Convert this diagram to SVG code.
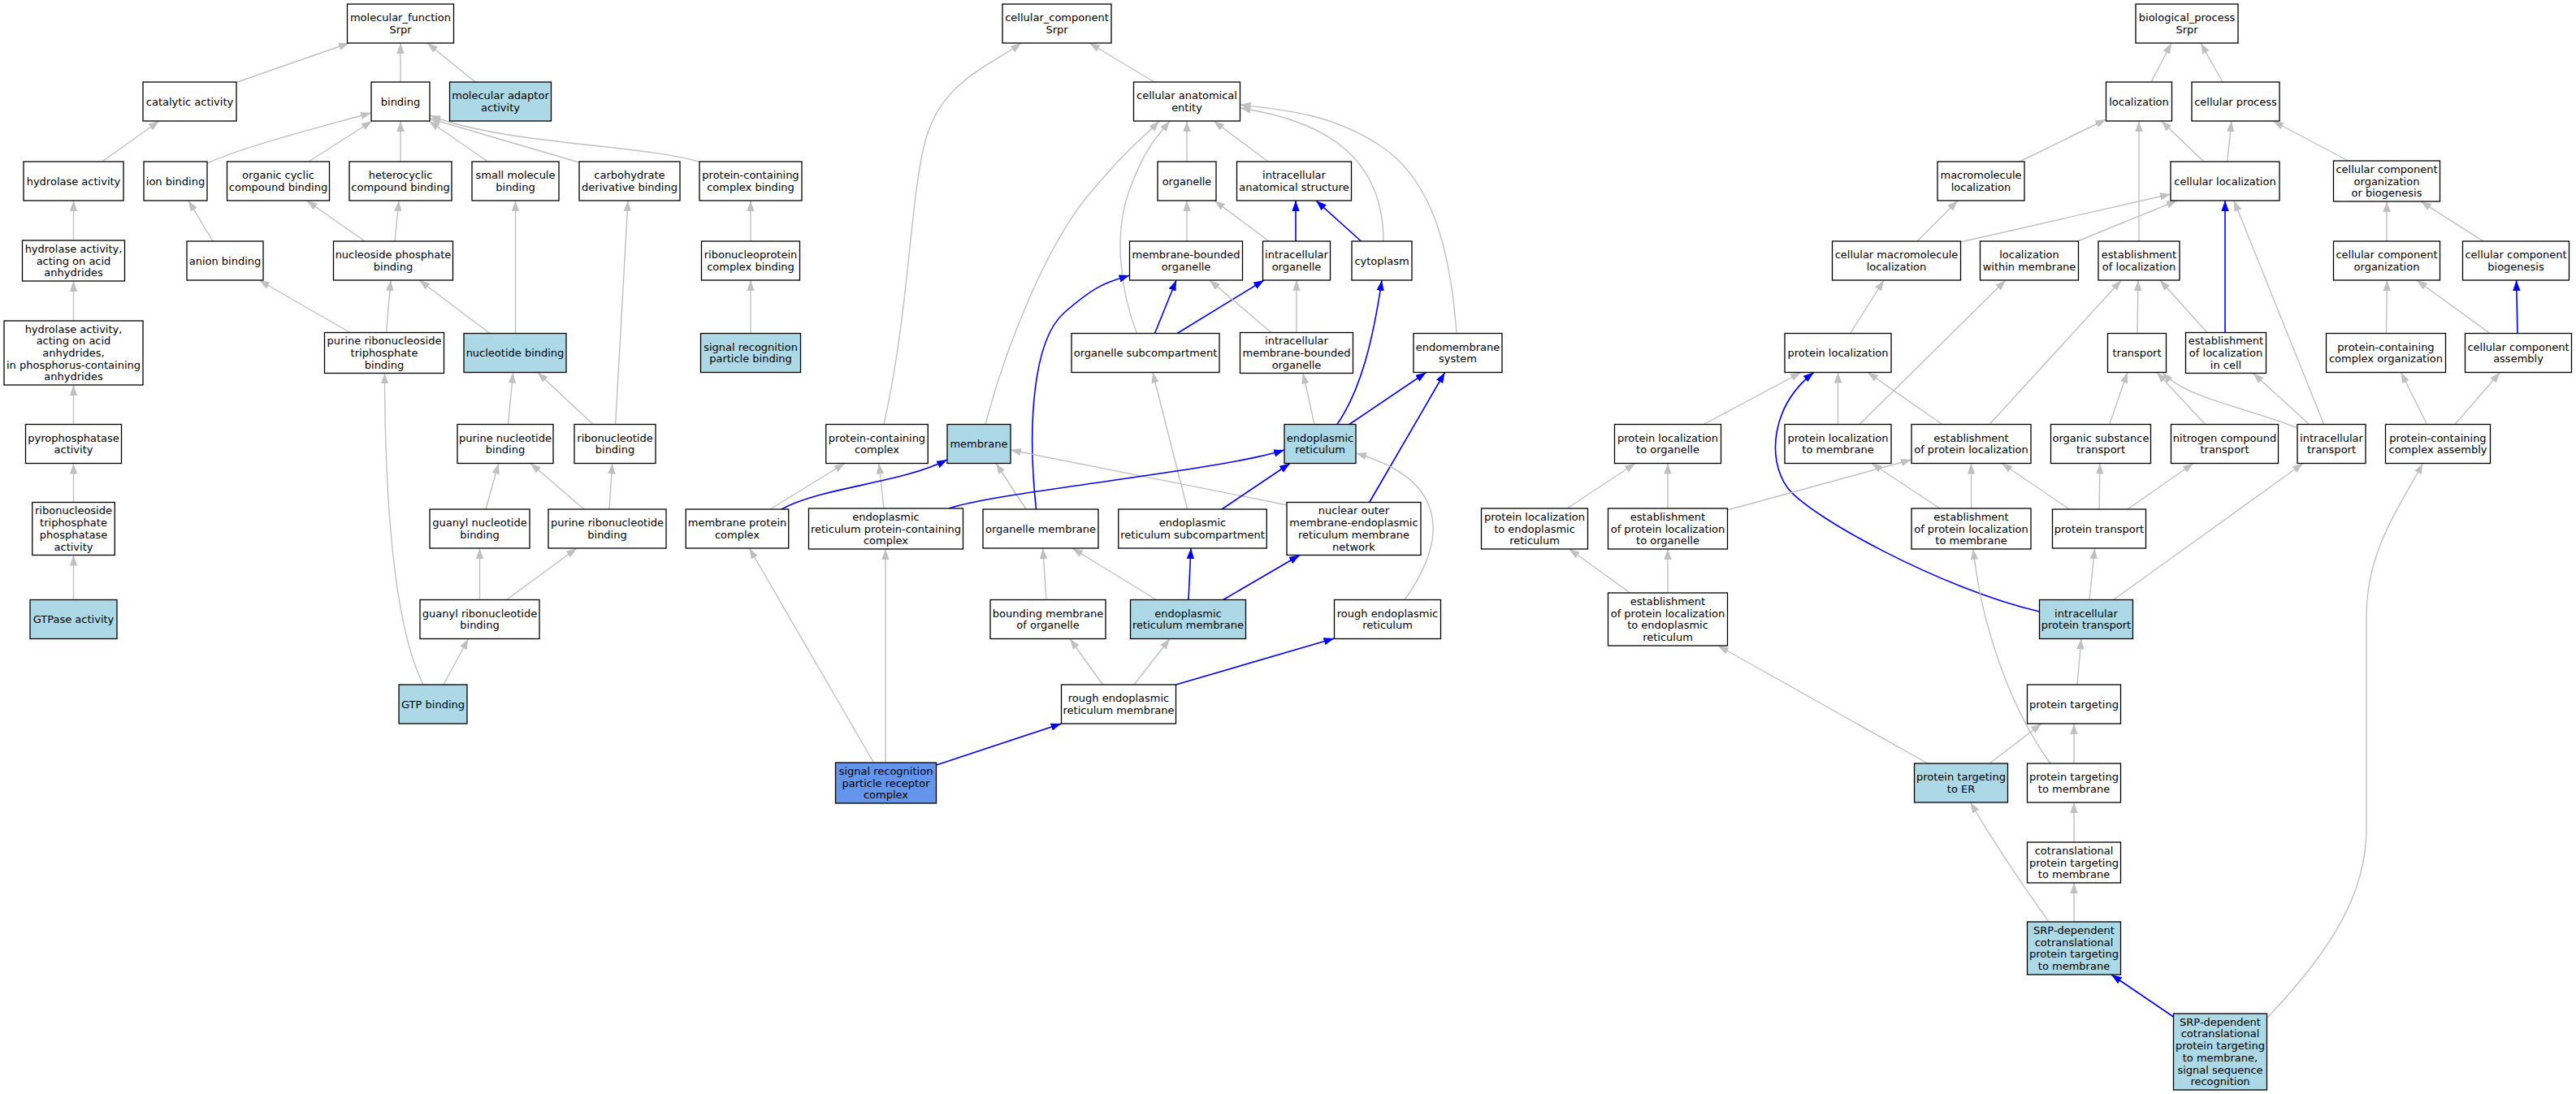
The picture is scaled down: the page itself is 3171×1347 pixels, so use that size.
<svg xmlns="http://www.w3.org/2000/svg" width="3171" height="1347" viewBox="0 0 3171 1347">
<style>
.n rect{fill:#fff;stroke:#000;stroke-width:1.3}
.n.lb rect{fill:#add8e6}
.n.cb rect{fill:#6495ed}
.n text{font-family:"DejaVu Sans","Liberation Sans",sans-serif;font-size:13px;text-anchor:middle;fill:#000}
.g{stroke:#c0c0c0;stroke-width:1.4;fill:none;marker-end:url(#ag)}
.b{stroke:#0000ff;stroke-width:1.6;fill:none;marker-end:url(#ab)}
</style>
<defs>
<marker id="ag" markerUnits="userSpaceOnUse" markerWidth="13" markerHeight="10" refX="13" refY="5" orient="auto"><path d="M0,0.3 L13,5 L0,9.7 z" fill="#c0c0c0"/></marker>
<marker id="ab" markerUnits="userSpaceOnUse" markerWidth="13" markerHeight="10" refX="13" refY="5" orient="auto"><path d="M0,0.3 L13,5 L0,9.7 z" fill="#0000ff"/></marker>
</defs>
<rect width="3171" height="1347" fill="#fff"/>
<g id="connectors">
<path class="g" d="M292,101 L430,53"/>
<path class="g" d="M493,101 L493,53"/>
<path class="g" d="M585,101 L526,53"/>
<path class="g" d="M125.5,199 L196,149"/>
<path class="g" d="M255,201 C300,180 400,155 457,139"/>
<path class="g" d="M380,199 L458,149"/>
<path class="g" d="M493,199 L493,149"/>
<path class="g" d="M600.5,199 L528,149"/>
<path class="g" d="M713,200 L529,146"/>
<path class="g" d="M860,199 C790,178 620,178 529,142"/>
<path class="g" d="M90.5,296 L90.5,247"/>
<path class="g" d="M262,297 L232,247"/>
<path class="g" d="M449,297 L377.6,247"/>
<path class="g" d="M486,297 L491,247"/>
<path class="g" d="M90.5,395 L90.5,346"/>
<path class="g" d="M431,409.5 L319,345"/>
<path class="g" d="M475.5,409.5 L481,345"/>
<path class="g" d="M603,410.5 L516,345"/>
<path class="g" d="M634.5,410.5 L634.5,247"/>
<path class="g" d="M757.6,522.5 L773,247"/>
<path class="g" d="M924,297 L924,247"/>
<path class="g" d="M924,410.5 L924,345"/>
<path class="g" d="M90.5,522.5 L90.5,474"/>
<path class="g" d="M90.5,618.5 L90.5,570.5"/>
<path class="g" d="M90.5,738.5 L90.5,683.5"/>
<path class="g" d="M625.5,522.5 L631.6,458.5"/>
<path class="g" d="M730,522.5 L661.7,458.5"/>
<path class="g" d="M598,627 L613.8,570.5"/>
<path class="g" d="M719,627 L653,570.5"/>
<path class="g" d="M750,627 L753.6,570.5"/>
<path class="g" d="M590.5,738.5 L590.5,675"/>
<path class="g" d="M623.5,738.5 L710,675"/>
<path class="g" d="M546,843 L576.5,786.5"/>
<path class="g" d="M521,843 C490,780 474,650 473.5,459.5"/>
<path class="g" d="M1421,101 L1341,53"/>
<path class="g" d="M1088,522.5 C1120,380 1120,240 1140,170 S1220,80 1257,53"/>
<path class="g" d="M1461,199 L1461,149"/>
<path class="g" d="M1561,199 L1494,149"/>
<path class="g" d="M1213,522.5 C1240,420 1290,300 1340,240 S1405,172 1427,149"/>
<path class="g" d="M1399.5,410.5 C1380,360 1370,290 1390,235 S1425,168 1440,149"/>
<path class="g" d="M1703,297 C1703,200 1640,150 1526.5,133"/>
<path class="g" d="M1793,410.5 C1785,300 1760,220 1700,180 S1580,135 1526.5,129"/>
<path class="g" d="M1562,297 L1495,247"/>
<path class="b" d="M1595,297 L1595,247"/>
<path class="b" d="M1675.5,297 L1620,247"/>
<path class="g" d="M1461,297 L1461,247"/>
<path class="b" d="M1421.5,410.5 L1448,345"/>
<path class="b" d="M1449,410.5 L1556,345"/>
<path class="g" d="M1565,409.5 L1489,345"/>
<path class="g" d="M1596,409.5 L1596,345"/>
<path class="b" d="M1275.5,627 C1265,530 1270,420 1310,385 S1362,348 1390.5,339"/>
<path class="g" d="M1263,627 L1226,570.5"/>
<path class="b" d="M1661,522.5 L1755.6,458.5"/>
<path class="g" d="M1618,522.5 L1604,459.5"/>
<path class="b" d="M1646,522.5 C1675,480 1690,420 1701,345"/>
<path class="b" d="M1685.7,618.5 L1778.6,458.5"/>
<path class="g" d="M1584,621.7 L1244,554"/>
<path class="g" d="M1461.7,627 L1418.9,458.5"/>
<path class="b" d="M1504,627 L1588,570.5"/>
<path class="b" d="M1168,626 C1230,605 1500,580 1581,554"/>
<path class="g" d="M1088,626 L1082,570.5"/>
<path class="g" d="M948,627 L1040,570.5"/>
<path class="b" d="M962,627 C1010,600 1110,595 1166,566"/>
<path class="g" d="M1288,738.5 L1283.7,675"/>
<path class="g" d="M1423.5,738.5 L1320,675"/>
<path class="b" d="M1463,738.5 L1466,675"/>
<path class="b" d="M1505.6,738.5 L1600,683.5"/>
<path class="g" d="M1729,738.5 C1785,660 1780,590 1669,558"/>
<path class="g" d="M1357.6,843 L1317,786.5"/>
<path class="g" d="M1396,843 L1440,786.5"/>
<path class="b" d="M1447.5,843 L1642.5,786"/>
<path class="b" d="M1152.5,942 L1306.5,891"/>
<path class="g" d="M1075.5,939 L922.4,675"/>
<path class="g" d="M1090,939 L1090,676"/>
<path class="g" d="M2648,101 L2673,53"/>
<path class="g" d="M2736,101 L2709,53"/>
<path class="g" d="M2486,199 L2592.5,147"/>
<path class="g" d="M2712.7,199 L2660.6,149"/>
<path class="g" d="M2741.7,199 L2747,149"/>
<path class="g" d="M2890.6,198 L2798,149"/>
<path class="g" d="M2633,297 L2633,149"/>
<path class="g" d="M2360,297 L2410,247"/>
<path class="g" d="M2413.5,298 L2672,239"/>
<path class="g" d="M2557.3,297 L2680,247"/>
<path class="b" d="M2739,409.5 L2739,247"/>
<path class="g" d="M2860.7,522.5 L2750,247"/>
<path class="g" d="M2938,297 L2938,248"/>
<path class="g" d="M3057,297 L2980,248"/>
<path class="g" d="M2631,410.5 L2632,345"/>
<path class="g" d="M2717,409.5 L2659,345"/>
<path class="g" d="M2449,522.5 L2611.4,345"/>
<path class="g" d="M2277.6,410.5 L2319,345"/>
<path class="g" d="M2289,522.5 L2469,345"/>
<path class="g" d="M2937.4,410.5 L2938.4,345"/>
<path class="g" d="M3065,410.5 L2975,345"/>
<path class="b" d="M3099,410.5 L3097.6,345"/>
<path class="g" d="M2596.7,522.5 L2618.8,458.5"/>
<path class="g" d="M2714.6,522.5 L2655,458.5"/>
<path class="g" d="M2828,527 C2760,500 2690,490 2662,458.5"/>
<path class="g" d="M2842.5,522.5 L2773.6,459.5"/>
<path class="g" d="M2987.5,522.5 L2955.6,458.5"/>
<path class="g" d="M3022,522.5 L3077.5,458.5"/>
<path class="g" d="M2097.4,522.5 L2217,458.5"/>
<path class="b" d="M2510.5,753 C2390,725 2225,635 2200,600 C2175,565 2180,500 2232.7,458.5"/>
<path class="g" d="M2262.5,522.5 L2262.5,458.5"/>
<path class="g" d="M2390.8,522.5 L2299,458.5"/>
<path class="g" d="M2426.5,626 L2426.5,570.5"/>
<path class="g" d="M2547.5,627 L2464,570.5"/>
<path class="g" d="M2584,627 L2585,570.5"/>
<path class="g" d="M2618.8,627 L2700,570.5"/>
<path class="g" d="M2126.5,628 L2353,566"/>
<path class="g" d="M2053,626 L2053,570.5"/>
<path class="g" d="M2388,626 L2304,570.5"/>
<path class="g" d="M1929,626 L2013,570.5"/>
<path class="g" d="M2006.6,730 L1931.6,676"/>
<path class="g" d="M2053,730 L2053,676"/>
<path class="g" d="M2373,940 L2115,795"/>
<path class="g" d="M2572,738.5 L2578.5,675"/>
<path class="g" d="M2601.6,738.5 L2835,570.5"/>
<path class="g" d="M2557,843 L2562,786.5"/>
<path class="g" d="M2449,940 L2513,891"/>
<path class="g" d="M2553,940 L2553,891"/>
<path class="g" d="M2524,940 C2480,880 2440,780 2429,676"/>
<path class="g" d="M2553,1037 L2553,988"/>
<path class="g" d="M2553,1135 L2553,1087"/>
<path class="g" d="M2522,1135 C2490,1090 2450,1030 2425.6,988"/>
<path class="b" d="M2675.5,1252 L2599,1200"/>
<path class="g" d="M2791,1253 C2870,1170 2913,1100 2913,1020 L2913,760 C2913,680 2950,630 2982.6,570.5"/>
</g>
<g id="N1" class="n"><rect x="427.5" y="5" width="131" height="48"/><text x="493" y="26.15">molecular_function<tspan x="493" dy="14.7">Srpr</tspan></text></g>
<g id="N2" class="n"><rect x="176" y="101" width="115" height="48"/><text x="233.5" y="129.5">catalytic activity</text></g>
<g id="N3" class="n"><rect x="457" y="101" width="72" height="48"/><text x="493" y="129.5">binding</text></g>
<g id="N4" class="n lb"><rect x="553.5" y="101" width="125" height="48"/><text x="616" y="122.15">molecular adaptor<tspan x="616" dy="14.7">activity</tspan></text></g>
<g id="N5" class="n"><rect x="29" y="199" width="123" height="48"/><text x="90.5" y="227.5">hydrolase activity</text></g>
<g id="N6" class="n"><rect x="177" y="199" width="78" height="48"/><text x="216" y="227.5">ion binding</text></g>
<g id="N7" class="n"><rect x="279.5" y="199" width="126" height="48"/><text x="342.5" y="220.15">organic cyclic<tspan x="342.5" dy="14.7">compound binding</tspan></text></g>
<g id="N8" class="n"><rect x="430" y="199" width="126" height="48"/><text x="493" y="220.15">heterocyclic<tspan x="493" dy="14.7">compound binding</tspan></text></g>
<g id="N9" class="n"><rect x="581" y="199" width="107" height="48"/><text x="634.5" y="220.15">small molecule<tspan x="634.5" dy="14.7">binding</tspan></text></g>
<g id="N10" class="n"><rect x="713" y="199" width="124" height="48"/><text x="775" y="220.15">carbohydrate<tspan x="775" dy="14.7">derivative binding</tspan></text></g>
<g id="N11" class="n"><rect x="861" y="199" width="126" height="48"/><text x="924" y="220.15">protein-containing<tspan x="924" dy="14.7">complex binding</tspan></text></g>
<g id="N12" class="n"><rect x="27.5" y="296" width="126" height="50"/><text x="90.5" y="310.8">hydrolase activity,<tspan x="90.5" dy="14.7">acting on acid</tspan><tspan x="90.5" dy="14.7">anhydrides</tspan></text></g>
<g id="N13" class="n"><rect x="230" y="297" width="94" height="48"/><text x="277" y="325.5">anion binding</text></g>
<g id="N14" class="n"><rect x="410.5" y="297" width="147" height="48"/><text x="484" y="318.15">nucleoside phosphate<tspan x="484" dy="14.7">binding</tspan></text></g>
<g id="N15" class="n"><rect x="863.5" y="297" width="121" height="48"/><text x="924" y="318.15">ribonucleoprotein<tspan x="924" dy="14.7">complex binding</tspan></text></g>
<g id="N16" class="n"><rect x="5" y="395" width="171" height="79"/><text x="90.5" y="409.6">hydrolase activity,<tspan x="90.5" dy="14.7">acting on acid</tspan><tspan x="90.5" dy="14.7">anhydrides,</tspan><tspan x="90.5" dy="14.7">in phosphorus-containing</tspan><tspan x="90.5" dy="14.7">anhydrides</tspan></text></g>
<g id="N17" class="n"><rect x="399.5" y="409.5" width="147" height="50"/><text x="473" y="424.3">purine ribonucleoside<tspan x="473" dy="14.7">triphosphate</tspan><tspan x="473" dy="14.7">binding</tspan></text></g>
<g id="N18" class="n lb"><rect x="571" y="410.5" width="126" height="48"/><text x="634" y="439">nucleotide binding</text></g>
<g id="N19" class="n lb"><rect x="862.5" y="410.5" width="123" height="48"/><text x="924" y="431.65">signal recognition<tspan x="924" dy="14.7">particle binding</tspan></text></g>
<g id="N20" class="n"><rect x="31.5" y="522.5" width="118" height="48"/><text x="90.5" y="543.65">pyrophosphatase<tspan x="90.5" dy="14.7">activity</tspan></text></g>
<g id="N21" class="n"><rect x="563" y="522.5" width="118" height="48"/><text x="622" y="543.65">purine nucleotide<tspan x="622" dy="14.7">binding</tspan></text></g>
<g id="N22" class="n"><rect x="707" y="522.5" width="100" height="48"/><text x="757" y="543.65">ribonucleotide<tspan x="757" dy="14.7">binding</tspan></text></g>
<g id="N23" class="n"><rect x="39.75" y="618.5" width="101.5" height="65"/><text x="90.5" y="633.45">ribonucleoside<tspan x="90.5" dy="14.7">triphosphate</tspan><tspan x="90.5" dy="14.7">phosphatase</tspan><tspan x="90.5" dy="14.7">activity</tspan></text></g>
<g id="N24" class="n"><rect x="529" y="627" width="123" height="48"/><text x="590.5" y="648.15">guanyl nucleotide<tspan x="590.5" dy="14.7">binding</tspan></text></g>
<g id="N25" class="n"><rect x="675" y="627" width="145" height="48"/><text x="747.5" y="648.15">purine ribonucleotide<tspan x="747.5" dy="14.7">binding</tspan></text></g>
<g id="N26" class="n lb"><rect x="37" y="738.5" width="107" height="48"/><text x="90.5" y="767">GTPase activity</text></g>
<g id="N27" class="n"><rect x="517" y="738.5" width="147" height="48"/><text x="590.5" y="759.65">guanyl ribonucleotide<tspan x="590.5" dy="14.7">binding</tspan></text></g>
<g id="N28" class="n lb"><rect x="491" y="843" width="84" height="48"/><text x="533" y="871.5">GTP binding</text></g>
<g id="C1" class="n"><rect x="1234" y="5" width="134" height="48"/><text x="1301" y="26.15">cellular_component<tspan x="1301" dy="14.7">Srpr</tspan></text></g>
<g id="C2" class="n"><rect x="1395.5" y="101" width="131" height="48"/><text x="1461" y="122.15">cellular anatomical<tspan x="1461" dy="14.7">entity</tspan></text></g>
<g id="C3" class="n"><rect x="1425" y="199" width="72" height="48"/><text x="1461" y="227.5">organelle</text></g>
<g id="C4" class="n"><rect x="1522.5" y="199" width="141" height="48"/><text x="1593" y="220.15">intracellular<tspan x="1593" dy="14.7">anatomical structure</tspan></text></g>
<g id="C5" class="n"><rect x="1390.5" y="297" width="139" height="48"/><text x="1460" y="318.15">membrane-bounded<tspan x="1460" dy="14.7">organelle</tspan></text></g>
<g id="C6" class="n"><rect x="1554.5" y="297" width="83" height="48"/><text x="1596" y="318.15">intracellular<tspan x="1596" dy="14.7">organelle</tspan></text></g>
<g id="C7" class="n"><rect x="1664" y="297" width="74" height="48"/><text x="1701" y="325.5">cytoplasm</text></g>
<g id="C8" class="n"><rect x="1319" y="410.5" width="182" height="48"/><text x="1410" y="439">organelle subcompartment</text></g>
<g id="C9" class="n"><rect x="1526.5" y="409.5" width="139" height="50"/><text x="1596" y="424.3">intracellular<tspan x="1596" dy="14.7">membrane-bounded</tspan><tspan x="1596" dy="14.7">organelle</tspan></text></g>
<g id="C10" class="n"><rect x="1740" y="410.5" width="109" height="48"/><text x="1794.5" y="431.65">endomembrane<tspan x="1794.5" dy="14.7">system</tspan></text></g>
<g id="C11" class="n"><rect x="1016.75" y="522.5" width="125.5" height="48"/><text x="1079.5" y="543.65">protein-containing<tspan x="1079.5" dy="14.7">complex</tspan></text></g>
<g id="C12" class="n lb"><rect x="1166" y="522.5" width="78" height="48"/><text x="1205" y="551">membrane</text></g>
<g id="C13" class="n lb"><rect x="1581" y="522.5" width="88" height="48"/><text x="1625" y="543.65">endoplasmic<tspan x="1625" dy="14.7">reticulum</tspan></text></g>
<g id="C14" class="n"><rect x="844.25" y="627" width="126.5" height="48"/><text x="907.5" y="648.15">membrane protein<tspan x="907.5" dy="14.7">complex</tspan></text></g>
<g id="C15" class="n"><rect x="995.5" y="626" width="190" height="50"/><text x="1090.5" y="640.8">endoplasmic<tspan x="1090.5" dy="14.7">reticulum protein-containing</tspan><tspan x="1090.5" dy="14.7">complex</tspan></text></g>
<g id="C16" class="n"><rect x="1210" y="627" width="142" height="48"/><text x="1281" y="655.5">organelle membrane</text></g>
<g id="C17" class="n"><rect x="1376.75" y="627" width="182.5" height="48"/><text x="1468" y="648.15">endoplasmic<tspan x="1468" dy="14.7">reticulum subcompartment</tspan></text></g>
<g id="C18" class="n"><rect x="1584" y="618.5" width="165" height="65"/><text x="1666.5" y="633.45">nuclear outer<tspan x="1666.5" dy="14.7">membrane-endoplasmic</tspan><tspan x="1666.5" dy="14.7">reticulum membrane</tspan><tspan x="1666.5" dy="14.7">network</tspan></text></g>
<g id="C19" class="n"><rect x="1219" y="738.5" width="142" height="48"/><text x="1290" y="759.65">bounding membrane<tspan x="1290" dy="14.7">of organelle</tspan></text></g>
<g id="C20" class="n lb"><rect x="1391.5" y="738.5" width="142" height="48"/><text x="1462.5" y="759.65">endoplasmic<tspan x="1462.5" dy="14.7">reticulum membrane</tspan></text></g>
<g id="C21" class="n"><rect x="1642.5" y="738.5" width="131" height="48"/><text x="1708" y="759.65">rough endoplasmic<tspan x="1708" dy="14.7">reticulum</tspan></text></g>
<g id="C22" class="n"><rect x="1306.5" y="843" width="141" height="48"/><text x="1377" y="864.15">rough endoplasmic<tspan x="1377" dy="14.7">reticulum membrane</tspan></text></g>
<g id="C23" class="n cb"><rect x="1028.5" y="939" width="124" height="50"/><text x="1090.5" y="953.8">signal recognition<tspan x="1090.5" dy="14.7">particle receptor</tspan><tspan x="1090.5" dy="14.7">complex</tspan></text></g>
<g id="B1" class="n"><rect x="2629" y="5" width="126" height="48"/><text x="2692" y="26.15">biological_process<tspan x="2692" dy="14.7">Srpr</tspan></text></g>
<g id="B2" class="n"><rect x="2592.5" y="101" width="81" height="48"/><text x="2633" y="129.5">localization</text></g>
<g id="B3" class="n"><rect x="2698" y="101" width="108" height="48"/><text x="2752" y="129.5">cellular process</text></g>
<g id="B4" class="n"><rect x="2385" y="199" width="107" height="48"/><text x="2438.5" y="220.15">macromolecule<tspan x="2438.5" dy="14.7">localization</tspan></text></g>
<g id="B5" class="n"><rect x="2672" y="199" width="134" height="48"/><text x="2739" y="227.5">cellular localization</text></g>
<g id="B6" class="n"><rect x="2872.5" y="198" width="131" height="50"/><text x="2938" y="212.8">cellular component<tspan x="2938" dy="14.7">organization</tspan><tspan x="2938" dy="14.7">or biogenesis</tspan></text></g>
<g id="B7" class="n"><rect x="2255.5" y="297" width="158" height="48"/><text x="2334.5" y="318.15">cellular macromolecule<tspan x="2334.5" dy="14.7">localization</tspan></text></g>
<g id="B8" class="n"><rect x="2437.5" y="297" width="121" height="48"/><text x="2498" y="318.15">localization<tspan x="2498" dy="14.7">within membrane</tspan></text></g>
<g id="B9" class="n"><rect x="2583" y="297" width="100" height="48"/><text x="2633" y="318.15">establishment<tspan x="2633" dy="14.7">of localization</tspan></text></g>
<g id="B10" class="n"><rect x="2872.5" y="297" width="131" height="48"/><text x="2938" y="318.15">cellular component<tspan x="2938" dy="14.7">organization</tspan></text></g>
<g id="B11" class="n"><rect x="3031.5" y="297" width="131" height="48"/><text x="3097" y="318.15">cellular component<tspan x="3097" dy="14.7">biogenesis</tspan></text></g>
<g id="B12" class="n"><rect x="2197" y="410.5" width="131" height="48"/><text x="2262.5" y="439">protein localization</text></g>
<g id="B13" class="n"><rect x="2594.5" y="410.5" width="72" height="48"/><text x="2630.5" y="439">transport</text></g>
<g id="B14" class="n"><rect x="2690.5" y="409.5" width="99" height="50"/><text x="2740" y="424.3">establishment<tspan x="2740" dy="14.7">of localization</tspan><tspan x="2740" dy="14.7">in cell</tspan></text></g>
<g id="B15" class="n"><rect x="2863.5" y="410.5" width="147" height="48"/><text x="2937" y="431.65">protein-containing<tspan x="2937" dy="14.7">complex organization</tspan></text></g>
<g id="B16" class="n"><rect x="3034.5" y="410.5" width="131" height="48"/><text x="3100" y="431.65">cellular component<tspan x="3100" dy="14.7">assembly</tspan></text></g>
<g id="B17" class="n"><rect x="1987.5" y="522.5" width="131" height="48"/><text x="2053" y="543.65">protein localization<tspan x="2053" dy="14.7">to organelle</tspan></text></g>
<g id="B18" class="n"><rect x="2197" y="522.5" width="131" height="48"/><text x="2262.5" y="543.65">protein localization<tspan x="2262.5" dy="14.7">to membrane</tspan></text></g>
<g id="B19" class="n"><rect x="2353" y="522.5" width="147" height="48"/><text x="2426.5" y="543.65">establishment<tspan x="2426.5" dy="14.7">of protein localization</tspan></text></g>
<g id="B20" class="n"><rect x="2524.5" y="522.5" width="123" height="48"/><text x="2586" y="543.65">organic substance<tspan x="2586" dy="14.7">transport</tspan></text></g>
<g id="B21" class="n"><rect x="2672.5" y="522.5" width="132" height="48"/><text x="2738.5" y="543.65">nitrogen compound<tspan x="2738.5" dy="14.7">transport</tspan></text></g>
<g id="B22" class="n"><rect x="2828" y="522.5" width="84" height="48"/><text x="2870" y="543.65">intracellular<tspan x="2870" dy="14.7">transport</tspan></text></g>
<g id="B23" class="n"><rect x="2936.5" y="522.5" width="129" height="48"/><text x="3001" y="543.65">protein-containing<tspan x="3001" dy="14.7">complex assembly</tspan></text></g>
<g id="B24" class="n"><rect x="1823.5" y="626" width="131" height="50"/><text x="1889" y="640.8">protein localization<tspan x="1889" dy="14.7">to endoplasmic</tspan><tspan x="1889" dy="14.7">reticulum</tspan></text></g>
<g id="B25" class="n"><rect x="1979.5" y="626" width="147" height="50"/><text x="2053" y="640.8">establishment<tspan x="2053" dy="14.7">of protein localization</tspan><tspan x="2053" dy="14.7">to organelle</tspan></text></g>
<g id="B26" class="n"><rect x="2353" y="626" width="147" height="50"/><text x="2426.5" y="640.8">establishment<tspan x="2426.5" dy="14.7">of protein localization</tspan><tspan x="2426.5" dy="14.7">to membrane</tspan></text></g>
<g id="B27" class="n"><rect x="2526.5" y="627" width="115" height="48"/><text x="2584" y="655.5">protein transport</text></g>
<g id="B28" class="n"><rect x="1979.5" y="730" width="147" height="65"/><text x="2053" y="744.95">establishment<tspan x="2053" dy="14.7">of protein localization</tspan><tspan x="2053" dy="14.7">to endoplasmic</tspan><tspan x="2053" dy="14.7">reticulum</tspan></text></g>
<g id="B29" class="n lb"><rect x="2510.5" y="738.5" width="115" height="48"/><text x="2568" y="759.65">intracellular<tspan x="2568" dy="14.7">protein transport</tspan></text></g>
<g id="B30" class="n"><rect x="2495.5" y="843" width="115" height="48"/><text x="2553" y="871.5">protein targeting</text></g>
<g id="B31" class="n lb"><rect x="2356.5" y="940" width="115" height="48"/><text x="2414" y="961.15">protein targeting<tspan x="2414" dy="14.7">to ER</tspan></text></g>
<g id="B32" class="n"><rect x="2495.5" y="940" width="115" height="48"/><text x="2553" y="961.15">protein targeting<tspan x="2553" dy="14.7">to membrane</tspan></text></g>
<g id="B33" class="n"><rect x="2495.5" y="1037" width="115" height="50"/><text x="2553" y="1051.8">cotranslational<tspan x="2553" dy="14.7">protein targeting</tspan><tspan x="2553" dy="14.7">to membrane</tspan></text></g>
<g id="B34" class="n lb"><rect x="2495.5" y="1135" width="115" height="65"/><text x="2553" y="1149.95">SRP-dependent<tspan x="2553" dy="14.7">cotranslational</tspan><tspan x="2553" dy="14.7">protein targeting</tspan><tspan x="2553" dy="14.7">to membrane</tspan></text></g>
<g id="B35" class="n lb"><rect x="2675.5" y="1248" width="115" height="94"/><text x="2733" y="1262.75">SRP-dependent<tspan x="2733" dy="14.7">cotranslational</tspan><tspan x="2733" dy="14.7">protein targeting</tspan><tspan x="2733" dy="14.7">to membrane,</tspan><tspan x="2733" dy="14.7">signal sequence</tspan><tspan x="2733" dy="14.7">recognition</tspan></text></g>
</svg>
